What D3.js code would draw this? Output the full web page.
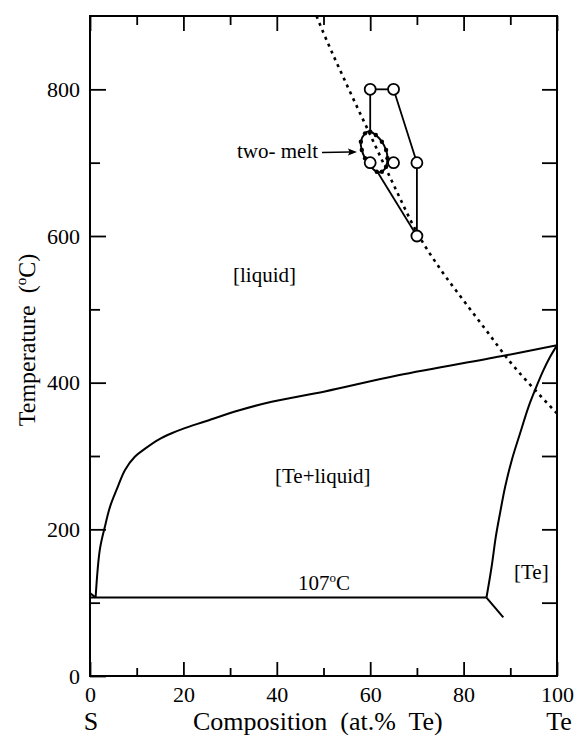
<!DOCTYPE html>
<html>
<head>
<meta charset="utf-8">
<script src="https://cdn.jsdelivr.net/npm/d3@7"></script>
<style>
  html, body { margin: 0; padding: 0; background: #fff; }
  svg { display: block; }
  text { font-family: "Liberation Serif", "Times New Roman", serif; fill: #000; -webkit-font-smoothing: antialiased; }
</style>
</head>
<body>
<svg id="chart" width="575" height="735"></svg>
<script>
// ---------- data ----------
const xMajorTicks = [0, 20, 40, 60, 80, 100];
const xMinorTicks = [10, 30, 50, 70, 90];
const yMajorTicks = [0, 200, 400, 600, 800];
const yMinorTicks = [100, 300, 500, 700];
const yAllTicks = [100, 200, 300, 400, 500, 600, 700, 800];

// liquidus (Te + liquid / liquid boundary) [at.% Te, °C]
const liquidus = [[1.2,107],[2.1,172],[3.2,204],[4.3,231],[5.7,254],[7.5,281],[9.6,299],[11.8,310],[14.6,322],[17.5,331],[20.3,338],[24.6,347],[31.8,362],[38.9,374],[50.3,388],[66,410],[88,436],[100,451]];
// sulfur-side short branch
const sBranch = [[0,113],[1.2,107]];
// Te solid boundary
const teSolvus = [[84.9,107],[86,149],[86.9,190],[87.8,222],[88.9,258],[90.3,294],[92.1,331],[93.9,367],[95.3,390],[97.1,417],[98.5,435],[100,451]];
// eutectic line
const eutectic = [[0,107],[84.9,107]];
const eutecticTail = [[84.9,107],[88.5,80]];
// dotted curve
const dotted = [[48.5,900],[50,877],[55,806],[60,738],[65,670],[70,605],[75,555],[80,512],[85,470],[90,428],[95,392],[100,358]];
// two-melt experimental points
const openPoints = [[60,800],[65,800],[60,700],[65,700],[70,700],[70,600]];
const tieTop = [[60,800],[65,800]];
const tieLeft = [[60,800],[60,742]];
const tieRight = [[65,800],[70,700],[70,600]];
const tieBottom = [[70,600],[61.5,688]];
// two-melt loop
const loop = [[58.9,740],[60.0,742.3],[61.2,737.7],[62.5,728.6],[63.4,717.3],[63.7,706],[63.4,694.5],[62.5,687.7],[61.4,687.7],[60.1,694.5],[58.9,706],[58.2,717.3],[58.0,728.6]];

// ---------- layout ----------
const svg = d3.select("#chart");
const x = d3.scaleLinear().domain([0, 100]).range([90, 557]);
const y = d3.scaleLinear().domain([0, 900]).range([676, 16]);

const defs = svg.append("defs");
defs.append("clipPath").attr("id", "plotclip")
  .append("rect").attr("x", 90).attr("y", 16).attr("width", 467).attr("height", 660);

function styleAxis(g, labels) {
  g.select(".domain").remove();
  g.selectAll(".tick line").attr("stroke", "#000").attr("stroke-width", 1.8);
  g.selectAll(".tick text").attr("font-family", "Liberation Serif, serif").attr("font-size", 22).attr("fill", "#000");
  if (!labels) g.selectAll(".tick text").remove();
}

// bottom axis
svg.append("g").attr("transform", "translate(0,676)")
  .call(d3.axisBottom(x).tickValues(xMajorTicks).tickSize(-14).tickPadding(10).tickFormat(d3.format("d")))
  .call(g => styleAxis(g, true));
svg.append("g").attr("transform", "translate(0,676)")
  .call(d3.axisBottom(x).tickValues(xMinorTicks).tickSize(-8))
  .call(g => styleAxis(g, false));
// top axis
svg.append("g").attr("transform", "translate(0,16)")
  .call(d3.axisTop(x).tickValues(xMajorTicks).tickSize(-15))
  .call(g => styleAxis(g, false));
svg.append("g").attr("transform", "translate(0,16)")
  .call(d3.axisTop(x).tickValues(xMinorTicks).tickSize(-9))
  .call(g => styleAxis(g, false));
// left axis
svg.append("g").attr("transform", "translate(90,0)")
  .call(d3.axisLeft(y).tickValues(yMajorTicks).tickSize(-16).tickPadding(10).tickFormat(d3.format("d")))
  .call(g => styleAxis(g, true));
svg.append("g").attr("transform", "translate(90,0)")
  .call(d3.axisLeft(y).tickValues(yMinorTicks).tickSize(-10))
  .call(g => styleAxis(g, false));
// right axis
svg.append("g").attr("transform", "translate(557,0)")
  .call(d3.axisRight(y).tickValues(yAllTicks).tickSize(-15))
  .call(g => styleAxis(g, false));

// frame
svg.append("rect").attr("x", 90).attr("y", 16).attr("width", 467).attr("height", 660)
  .attr("fill", "none").attr("stroke", "#000").attr("stroke-width", 2);

const plot = svg.append("g").attr("clip-path", "url(#plotclip)");

// dotted curve
plot.append("path").datum(dotted)
  .attr("d", d3.line().x(d => x(d[0])).y(d => y(d[1])).curve(d3.curveMonotoneX))
  .attr("fill", "none").attr("stroke", "#000").attr("stroke-width", 2.6)
  .attr("stroke-dasharray", "3,4.5");

// phase boundaries
const smooth = d3.line().x(d => x(d[0])).y(d => y(d[1])).curve(d3.curveCatmullRom.alpha(0.5));
const straight = d3.line().x(d => x(d[0])).y(d => y(d[1]));
[liquidus, teSolvus].forEach(data => {
  plot.append("path").datum(data).attr("d", smooth)
    .attr("fill", "none").attr("stroke", "#000").attr("stroke-width", 2);
});
[sBranch, eutectic, eutecticTail].forEach(data => {
  plot.append("path").datum(data).attr("d", straight)
    .attr("fill", "none").attr("stroke", "#000").attr("stroke-width", 2);
});

// tie lines of two-melt region
[tieTop, tieLeft, tieRight, tieBottom].forEach(data => {
  plot.append("path").datum(data).attr("d", straight)
    .attr("fill", "none").attr("stroke", "#000").attr("stroke-width", 1.8);
});

// loop
plot.append("path").datum(loop)
  .attr("d", d3.line().x(d => x(d[0])).y(d => y(d[1])).curve(d3.curveCardinalClosed))
  .attr("fill", "none").attr("stroke", "#000").attr("stroke-width", 2);
plot.selectAll(".loopdot").data(loop).enter().append("circle")
  .attr("cx", d => x(d[0])).attr("cy", d => y(d[1])).attr("r", 2.2).attr("fill", "#000");

// open circles
plot.selectAll(".open").data(openPoints).enter().append("circle")
  .attr("cx", d => x(d[0])).attr("cy", d => y(d[1])).attr("r", 5.5)
  .attr("fill", "#fff").attr("stroke", "#000").attr("stroke-width", 1.8);

// ---------- text ----------
function label(txt, xx, yy, size, anchor) {
  return svg.append("text").attr("x", xx).attr("y", yy).attr("font-size", size)
    .attr("fill", "#000").attr("text-anchor", anchor || "start").text(txt);
}
label("[liquid]", 233, 282, 21);
label("[Te+liquid]", 275, 483, 21);
label("[Te]", 514, 579, 21);
label("two- melt", 237, 158, 21);

const t107 = svg.append("text").attr("x", 298).attr("y", 590).attr("font-size", 21).attr("fill", "#000");
t107.append("tspan").text("107");
t107.append("tspan").attr("font-size", 13).attr("dy", -8).text("o");
t107.append("tspan").attr("dy", 8).text("C");

// arrow for two-melt
svg.append("line").attr("x1", 322).attr("y1", 152.5).attr("x2", 350).attr("y2", 152)
  .attr("stroke", "#000").attr("stroke-width", 1.3);
svg.append("path").attr("d", "M357,152 L348,148.5 L349.5,152 L348,155.5 Z").attr("fill", "#000");

// axis titles
svg.append("text").attr("x", 193).attr("y", 730).attr("font-size", 26).attr("fill", "#000")
  .attr("xml:space", "preserve").style("white-space", "pre").text("Composition  (at.%  Te)");
label("S", 91, 730, 26, "middle");
label("Te", 559, 730, 26, "middle");

const yt = svg.append("text").attr("transform", "translate(35,340) rotate(-90)")
  .attr("text-anchor", "middle").attr("font-size", 24).attr("fill", "#000")
  .attr("text-rendering", "geometricPrecision");
yt.append("tspan").style("white-space", "pre").attr("fill", "#000").text("Temperature  (");
yt.append("tspan").attr("font-size", 15).attr("dy", -9).attr("fill", "#000").text("o");
yt.append("tspan").attr("dy", 9).attr("fill", "#000").text("C)");
</script>
</body>
</html>
